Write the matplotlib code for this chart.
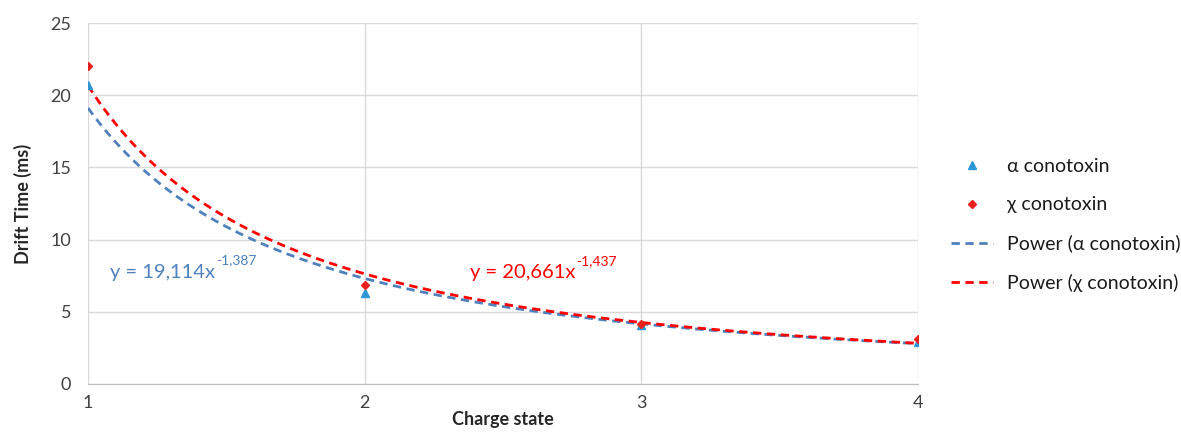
import numpy as np
import matplotlib
matplotlib.use("Agg")
import matplotlib.pyplot as plt

plt.rcParams['font.family'] = ['Lato', 'DejaVu Sans']

# Measured drift times per charge state
charge = [1, 2, 3, 4]
alpha_drift = [20.7, 6.3, 4.1, 2.9]
chi_drift = [22.0, 6.85, 4.15, 3.1]

# Power-law fit coefficients y = a * x^b
alpha_fit = (19.114, -1.387)
chi_fit = (20.661, -1.437)

blue_marker = '#2e96d4'
red_marker = '#e8211c'
blue_line = '#4f81bd'
red_line = '#ff0000'
text_col = '#404040'

fig = plt.figure(figsize=(11.81, 4.41), dpi=100)
ax = fig.add_axes([88 / 1181, 1 - 384 / 441, 830 / 1181, 361 / 441])

xs = np.linspace(1, 4, 300)
ax.plot(charge, alpha_drift, linestyle='none', marker='^', color=blue_marker,
        markersize=6, label='α conotoxin', zorder=4)
ax.plot(charge, chi_drift, linestyle='none', marker='D', color=red_marker,
        markersize=4.5, label='χ conotoxin', zorder=4)
ax.plot(xs, alpha_fit[0] * xs ** alpha_fit[1], linestyle=(0, (3, 2)),
        color=blue_line, linewidth=2, label='Power (α conotoxin)', zorder=3)
ax.plot(xs, chi_fit[0] * xs ** chi_fit[1], linestyle=(0, (3, 2)),
        color=red_line, linewidth=2, label='Power (χ conotoxin)', zorder=3)

ax.set_xlim(1, 4)
ax.set_ylim(0, 25)
ax.set_xticks([1, 2, 3, 4])
ax.set_yticks([0, 5, 10, 15, 20, 25])
ax.grid(True, color='#d9d9d9', linewidth=1)
ax.set_axisbelow(True)
for side in ['top', 'right', 'left']:
    ax.spines[side].set_visible(False)
ax.spines['bottom'].set_color('#bfbfbf')
ax.tick_params(axis='both', length=0, labelsize=13, colors=text_col)
ax.tick_params(axis='x', pad=8)
ax.tick_params(axis='y', pad=12)

ax.set_xlabel('Charge state', fontsize=13, fontweight='bold', labelpad=0,
              color='#262626')
ax.set_ylabel('Drift Time (ms)', fontsize=13, fontweight='bold', labelpad=13,
              color='#262626')


def equation(x, y, coef, expo, color):
    base = ax.annotate(f'y = {coef}x', (x, y), color=color, fontsize=14.5,
                       va='center', ha='left')
    ax.annotate(expo, xy=(1, 0.5), xycoords=base, xytext=(0.5, 4),
                textcoords='offset points', color=color, fontsize=10,
                va='bottom', ha='left')


equation(1.08, 7.75, '19,114', '-1,387', blue_line)
equation(2.38, 7.7, '20,661', '-1,437', red_line)

fig.legend(loc='center left', bbox_to_anchor=(933 / 1181, 1 - 225 / 441),
           frameon=False, fontsize=14, handlelength=2.2, labelspacing=1.1,
           handletextpad=0.7, labelcolor='#1a1a1a')

fig.savefig('out.png', dpi=100)
